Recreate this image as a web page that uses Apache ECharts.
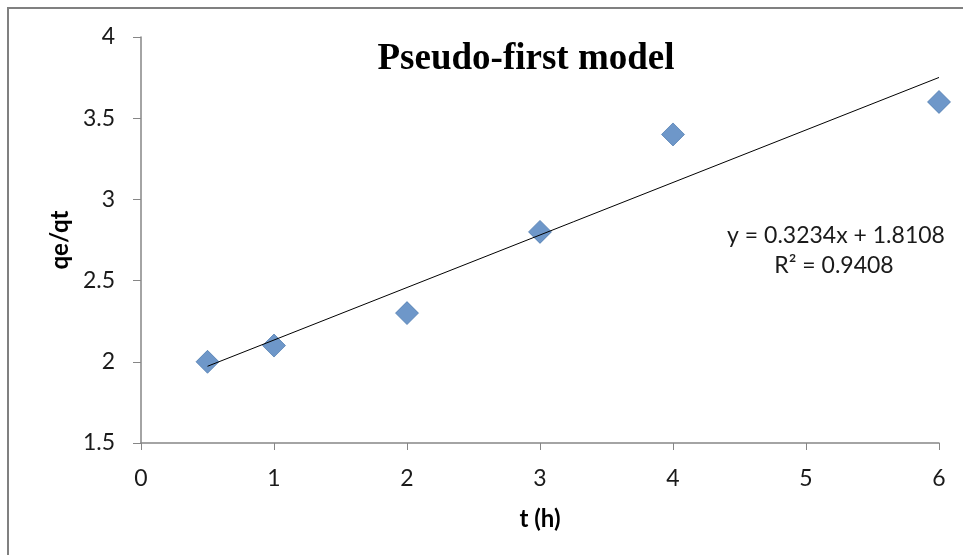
<!DOCTYPE html>
<html>
<head>
<meta charset="utf-8">
<script src="https://cdn.jsdelivr.net/npm/echarts@6/dist/echarts.min.js"></script>
<style>html,body{margin:0;padding:0;background:#fff}#c{width:963px;height:555px}</style>
</head>
<body>
<div id="c"></div>
<script>
var tValues = [0.5, 1, 2, 3, 4, 6];
var qRatio = [2.0, 2.1, 2.3, 2.8, 3.4, 3.6];
var titleText = 'Pseudo-first model';
var xName = 't (h)';
var yName = 'qe/qt';
var eqText = 'y = 0.3234x + 1.8108';
var r2Text = 'R² = 0.9408';

// least-squares trendline from the data
var n = tValues.length, mx = 0, my = 0;
for (var i = 0; i < n; i++) { mx += tValues[i]; my += qRatio[i]; }
mx /= n; my /= n;
var sxy = 0, sxx = 0;
for (var i = 0; i < n; i++) { sxy += (tValues[i]-mx)*(qRatio[i]-my); sxx += (tValues[i]-mx)*(tValues[i]-mx); }
var slope = sxy/sxx, icpt = my - slope*mx;
var xMin = Math.min.apply(null, tValues), xMax = Math.max.apply(null, tValues);
var trend = [[xMin, icpt + slope*xMin], [xMax, icpt + slope*xMax]];

var chart = echarts.init(document.getElementById('c'), null, {renderer:'canvas'});
var font = 'Lato, "Liberation Sans", sans-serif';
chart.setOption({
  animation: false,
  backgroundColor: '#fff',
  title: {
    text: titleText, left: 521, top: 36, textAlign: 'center',
    textStyle: {fontFamily: '"Liberation Serif", "Times New Roman", serif', fontWeight: 'bold', fontSize: 37, color: '#000'}
  },
  grid: {left: 141, right: 24, top: 37, bottom: 112, containLabel: false},
  xAxis: {
    type: 'value', min: 0, max: 6, interval: 1,
    name: xName, nameLocation: 'middle', nameGap: 64,
    nameTextStyle: {fontFamily: font, fontWeight: 'bold', fontSize: 24, color: '#000'},
    axisLine: {lineStyle: {color: '#868686', width: 1.5}},
    axisTick: {show: true, length: 7, lineStyle: {color: '#868686'}},
    axisLabel: {fontFamily: font, fontSize: 23, color: '#1a1a1a', margin: 24},
    splitLine: {show: false}
  },
  yAxis: {
    type: 'value', min: 1.5, max: 4, interval: 0.5,
    name: yName, nameLocation: 'middle', nameGap: 68, nameRotate: 90,
    nameTextStyle: {fontFamily: font, fontWeight: 'bold', fontSize: 24, color: '#000'},
    axisLine: {show: true, lineStyle: {color: '#868686', width: 1.5}},
    axisTick: {show: true, length: 8, lineStyle: {color: '#868686'}},
    axisLabel: {fontFamily: font, fontSize: 23, color: '#1a1a1a', margin: 26},
    splitLine: {show: false}
  },
  series: [
    {
      type: 'line', data: trend, symbol: 'none', silent: true,
      lineStyle: {color: '#000', width: 1}, z: 3
    },
    {
      type: 'scatter', data: tValues.map(function(t,i){return [t, qRatio[i]];}),
      symbol: 'diamond', symbolSize: 23,
      itemStyle: {color: '#4A7DBB', borderColor: '#3c6ca6', borderWidth: 0.8}, z: 2
    }
  ],
  graphic: [
    {type: 'rect', shape: {x: 8, y: 8, width: 1000, height: 600}, style: {fill: 'none', stroke: '#808080', lineWidth: 2}, silent: true, z: -1},
    {type: 'text', style: {text: eqText, x: 836, y: 236, textAlign: 'center', textVerticalAlign: 'middle', font: '23px ' + font, fill: '#1a1a1a'}},
    {type: 'text', style: {text: r2Text, x: 834, y: 266, textAlign: 'center', textVerticalAlign: 'middle', font: '23px ' + font, fill: '#1a1a1a'}}
  ]
});
</script>
</body>
</html>
